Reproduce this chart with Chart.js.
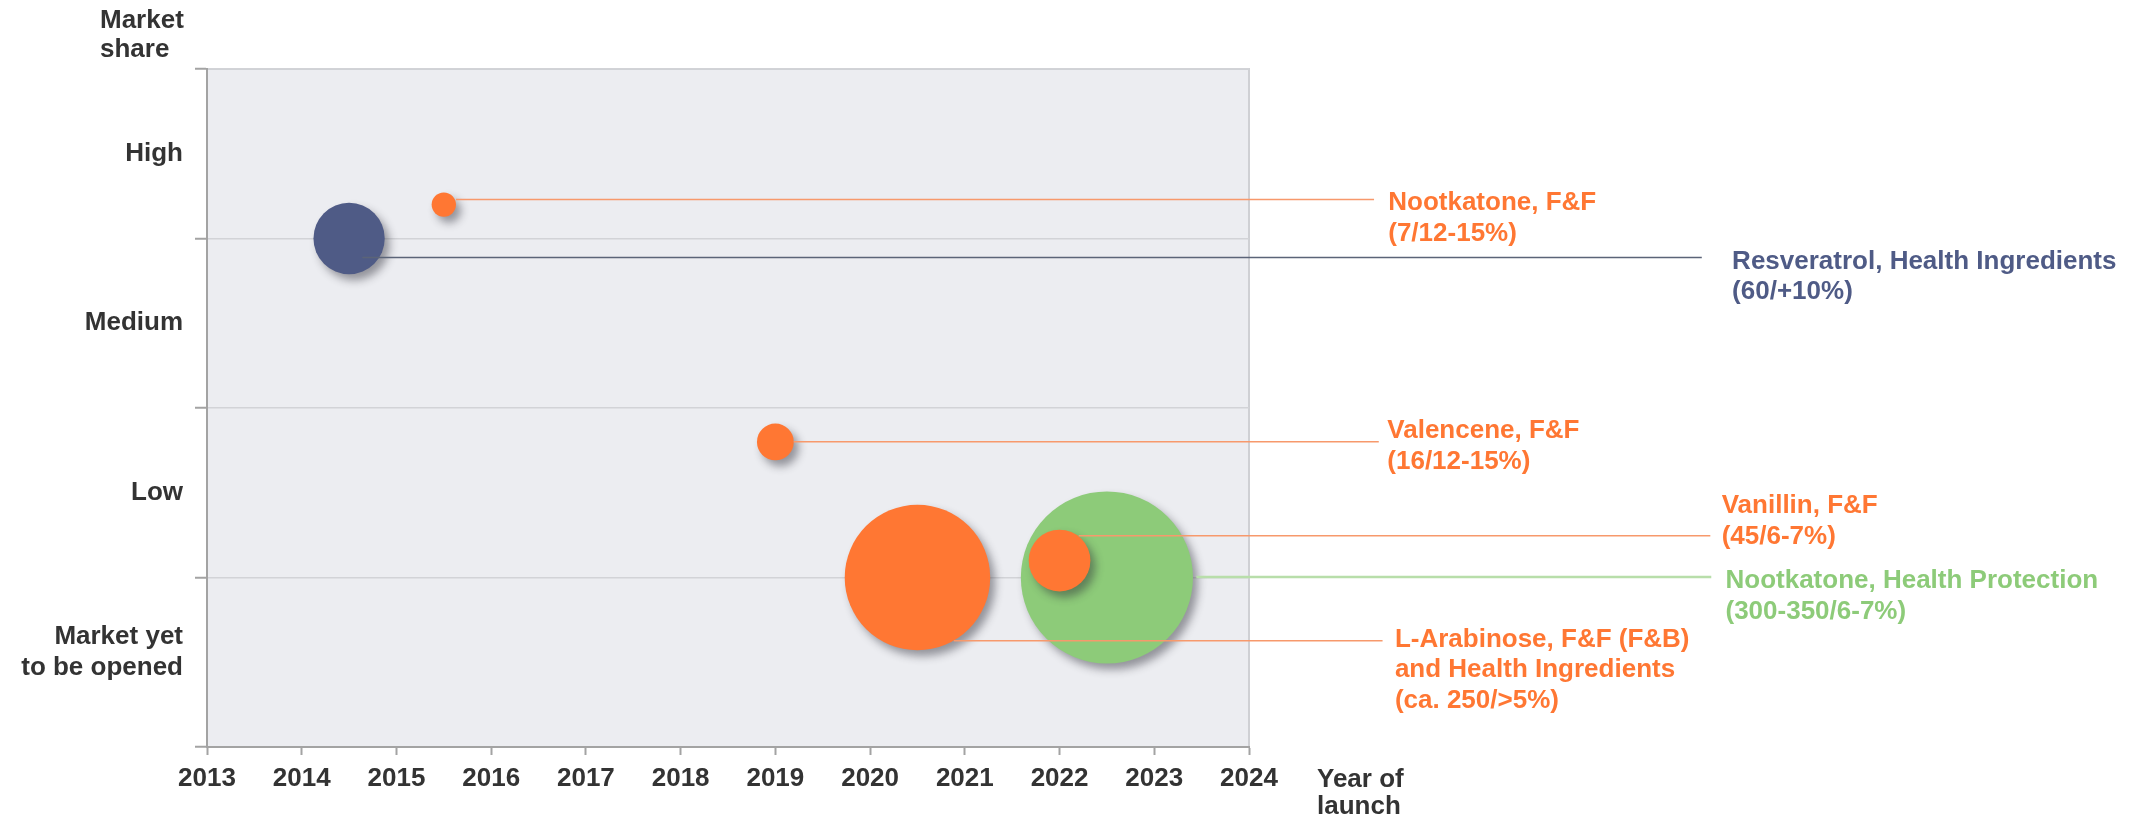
<!DOCTYPE html>
<html>
<head>
<meta charset="utf-8">
<script src="https://cdn.jsdelivr.net/npm/chart.js@4.4.1/dist/chart.umd.min.js"></script>
<style>
  html, body { margin: 0; padding: 0; background: #fff; }
  #wrap { width: 2154px; height: 819px; }
</style>
</head>
<body>
<div id="wrap"><canvas id="launchChart" width="2154" height="819"></canvas></div>
<script>
// products, launch year, market share level, market size (the first number in brackets)
const products = ['Nootkatone, F&F', 'Resveratrol, Health Ingredients', 'Valencene, F&F', 'Vanillin, F&F',
  'Nootkatone, Health Protection', 'L-Arabinose, F&F (F&B)\nand Health Ingredients'];
const figures = ['(7/12-15%)', '(60/+10%)', '(16/12-15%)', '(45/6-7%)', '(300-350/6-7%)', '(ca. 250/>5%)'];
const segment = ['ff', 'health', 'ff', 'ff', 'protection', 'ff'];
const launchYear = [2015.5, 2014.5, 2019, 2022, 2022.5, 2020.5];
const shareLevel = [3.2, 3.0, 1.8, 1.1, 1.0, 1.0];
const marketSize = [7, 60, 16, 45, 350, 250];

const yearTicks = [2013, 2014, 2015, 2016, 2017, 2018, 2019, 2020, 2021, 2022, 2023, 2024];
const shareGrid = [0, 1, 2, 3, 4];
const shareLabels = [['Market yet', 'to be opened'], 'Low', 'Medium', 'High'];
const shareLabelPos = [0.56, 1.5, 2.5, 3.5];

// where the leader lines end and the callout text sits (data units)
const callouts = [
  { lineY: 3.23, startFrac: 1.0, lineEnd: 2025.32, textX: 2025.47, textY: 3.167 },
  { lineY: 2.888, startFrac: 0.37, lineEnd: 2028.78, textX: 2029.10, textY: 2.823 },
  { lineY: 1.801, startFrac: 1.0, lineEnd: 2025.37, textX: 2025.46, textY: 1.821 },
  { lineY: 1.247, startFrac: 0.62, lineEnd: 2028.87, textX: 2028.99, textY: 1.379 },
  { lineY: 1.003, startFrac: 1.04, lineEnd: 2028.88, textX: 2029.03, textY: 0.937 },
  { lineY: 0.627, startFrac: 0.5, lineEnd: 2025.41, textX: 2025.54, textY: 0.592 }
];

const colors = { ff: '#FF7733', health: '#4F5B86', protection: '#8DCB79' };
const lineColors = { ff: '#F7996C', health: '#5B6478', protection: '#B8DEAA' };
const lineWidths = { ff: 1.5, health: 1.5, protection: 2.5 };
const FONT = 'bold 26px "Liberation Sans", Arial, sans-serif';
const TEXT = '#333333';
const R_SCALE = 4.6;

function radius(i) { return R_SCALE * Math.sqrt(marketSize[i]); }

function pointsFor(seg) {
  const pts = [];
  products.forEach((p, i) => {
    if (segment[i] === seg) pts.push({ x: launchYear[i], y: shareLevel[i], r: radius(i) });
  });
  return pts;
}

const backdrop = {
  id: 'backdrop',
  beforeDraw(chart) {
    const { ctx, chartArea: a } = chart;
    ctx.save();
    ctx.fillStyle = '#ECEDF1';
    ctx.fillRect(a.left, a.top, a.right - a.left, a.bottom - a.top);
    ctx.strokeStyle = '#CFD0D4';
    ctx.lineWidth = 2;
    ctx.beginPath();
    ctx.moveTo(a.left, a.top);
    ctx.lineTo(a.right, a.top);
    ctx.lineTo(a.right, a.bottom);
    ctx.stroke();
    ctx.restore();
  },
  afterDraw(chart) {
    const ctx = chart.ctx;
    ctx.save();
    ctx.font = FONT;
    ctx.fillStyle = TEXT;
    ctx.textAlign = 'left';
    ctx.textBaseline = 'alphabetic';
    ctx.fillText('Market', 100, 28);
    ctx.fillText('share', 100, 57);
    ctx.fillText('Year of', 1317, 787);
    ctx.fillText('launch', 1317, 814);
    ctx.restore();
  }
};

const shadow = {
  id: 'shadow',
  beforeDatasetDraw(chart) {
    const c = chart.ctx;
    c.save();
    c.shadowColor = 'rgba(40,40,50,0.45)';
    c.shadowBlur = 9;
    c.shadowOffsetX = 5;
    c.shadowOffsetY = 6;
  },
  afterDatasetDraw(chart) { chart.ctx.restore(); }
};

const leaders = {
  id: 'leaders',
  afterDatasetsDraw(chart) {
    const { ctx, scales: { x, y } } = chart;
    ctx.save();
    callouts.forEach((c, i) => {
      const seg = segment[i];
      const cx = x.getPixelForValue(launchYear[i]);
      const ly = y.getPixelForValue(c.lineY);
      ctx.strokeStyle = lineColors[seg];
      ctx.lineWidth = lineWidths[seg];
      ctx.beginPath();
      ctx.moveTo(cx + c.startFrac * radius(i), ly);
      ctx.lineTo(x.getPixelForValue(c.lineEnd), ly);
      ctx.stroke();

      const lines = products[i].split('\n').concat([figures[i]]);
      ctx.font = FONT;
      ctx.fillStyle = colors[seg];
      ctx.textAlign = 'left';
      ctx.textBaseline = 'alphabetic';
      const tx = x.getPixelForValue(c.textX);
      const ty = y.getPixelForValue(c.textY);
      lines.forEach((t, k) => ctx.fillText(t, tx, ty + k * 30.5));
    });
    ctx.restore();
  }
};

new Chart(document.getElementById('launchChart'), {
  type: 'bubble',
  data: {
    datasets: [
      { label: 'F&F', data: pointsFor('ff'), backgroundColor: colors.ff, borderWidth: 0 },
      { label: 'Health Protection', data: pointsFor('protection'), backgroundColor: colors.protection, borderWidth: 0 },
      { label: 'Health Ingredients', data: pointsFor('health'), backgroundColor: colors.health, borderWidth: 0 }
    ]
  },
  options: {
    responsive: false,
    animation: false,
    events: [],
    layout: { autoPadding: false, padding: { left: 0, top: 69, right: 905, bottom: 0 } },
    elements: { point: { hoverRadius: 0, hoverBorderWidth: 0 } },
    scales: {
      x: {
        type: 'linear',
        min: 2013,
        max: 2024,
        afterBuildTicks: s => { s.ticks = yearTicks.map(v => ({ value: v })); },
        afterFit: s => { s.height = 72; },
        ticks: { callback: v => String(v), color: TEXT, font: { family: '"Liberation Sans", Arial, sans-serif', size: 26, weight: 'bold' }, padding: 8, maxRotation: 0, autoSkip: false },
        grid: { drawOnChartArea: false, tickLength: 8, tickColor: '#A3A3A3', tickWidth: 2 },
        border: { color: '#A3A3A3', width: 2 }
      },
      y: {
        type: 'linear',
        min: 0,
        max: 4,
        afterBuildTicks: s => { s.ticks = shareGrid.concat(shareLabelPos).sort((a, b) => a - b).map(v => ({ value: v })); },
        afterFit: s => { s.width = 207; },
        ticks: {
          callback: v => { const k = shareLabelPos.indexOf(v); return k >= 0 ? shareLabels[k] : ''; },
          color: TEXT,
          font: { family: '"Liberation Sans", Arial, sans-serif', size: 26, weight: 'bold', lineHeight: 1.2 },
          padding: 12,
          autoSkip: false
        },
        grid: {
          color: c => Number.isInteger(c.tick.value) ? '#D2D3D7' : 'rgba(0,0,0,0)',
          lineWidth: 1.5,
          tickLength: 12,
          tickColor: c => Number.isInteger(c.tick.value) ? '#A3A3A3' : 'rgba(0,0,0,0)',
          tickWidth: 2
        },
        border: { color: '#A3A3A3', width: 2 }
      }
    },
    plugins: { legend: { display: false }, tooltip: { enabled: false } }
  },
  plugins: [backdrop, shadow, leaders]
});
</script>
</body>
</html>
